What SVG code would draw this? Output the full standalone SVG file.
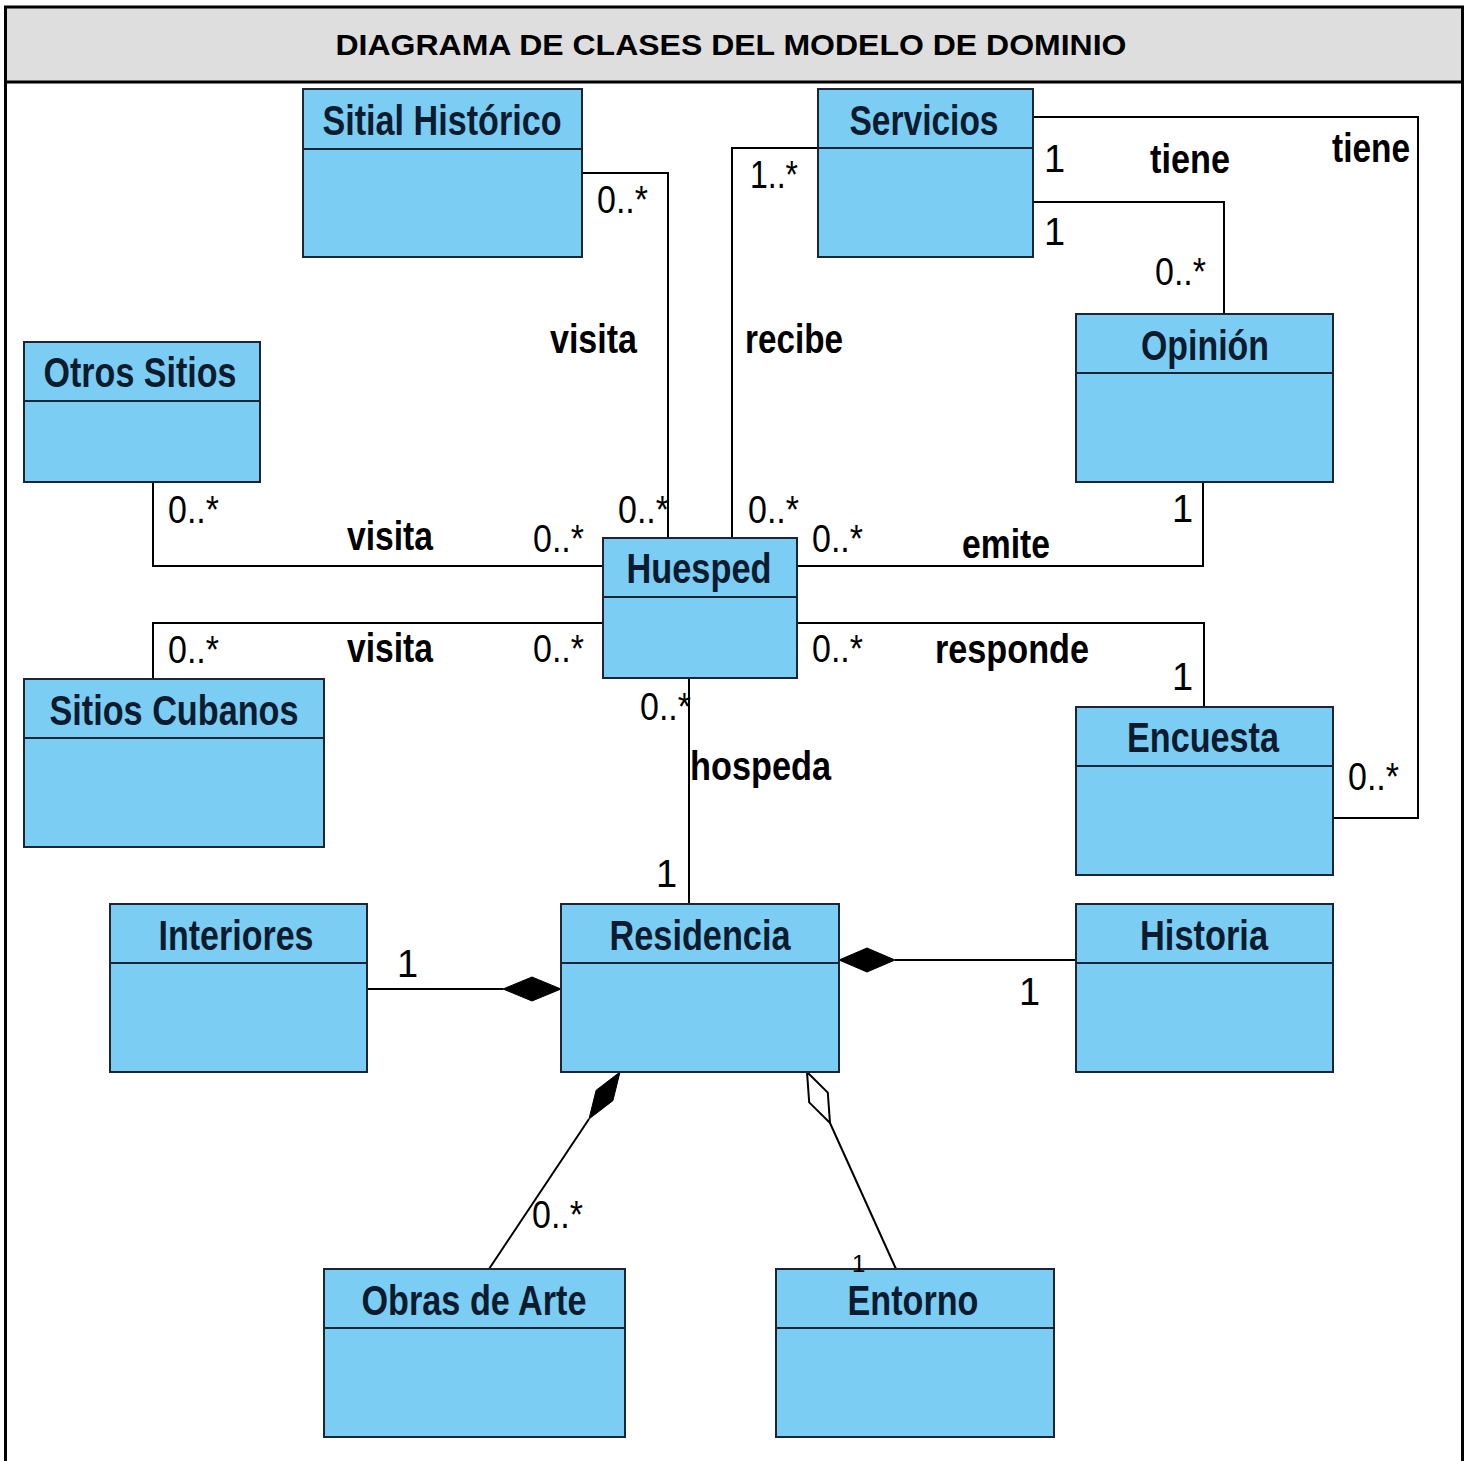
<svg xmlns="http://www.w3.org/2000/svg" width="1468" height="1461" viewBox="0 0 1468 1461">
  <style>
    .frame { fill: none; stroke: #000; stroke-width: 3; }
    .box { fill: #7bcdf3; stroke: #1b2536; stroke-width: 2; }
    .div { stroke: #1b2536; stroke-width: 2; }
    .name { font-family: "Liberation Sans", Arial, sans-serif; font-weight: bold; font-size: 42px; fill: #0d1b2e; text-anchor: middle; }
    .conn { fill: none; stroke: #000; stroke-width: 2; }
    .assoc { font-family: "Liberation Sans", Arial, sans-serif; font-weight: bold; font-size: 40px; fill: #000; }
    .mult { font-family: "Liberation Sans", Arial, sans-serif; font-size: 38px; fill: #000; }
    .title { font-family: "Liberation Sans", Arial, sans-serif; font-weight: bold; font-size: 30px; fill: #000; text-anchor: middle; }
  </style>

  <!-- page frame and title bar -->
  <rect x="0" y="0" width="1468" height="1461" fill="#fff"/>
  <rect x="5.5" y="7" width="1457" height="75" fill="#dedede"/>
  <path class="frame" d="M5.5,1461 V7 H1462.5 V1461 M5.5,82 H1462.5"/>
  <text class="title" x="731" y="55" textLength="791" lengthAdjust="spacingAndGlyphs">DIAGRAMA DE CLASES DEL MODELO DE DOMINIO</text>

  <!-- associations -->
  <g id="connectors">
    <!-- Sitial Histórico - Huesped -->
    <path class="conn" d="M582,173 H668 V538"/>
    <!-- Servicios - Huesped -->
    <path class="conn" d="M818,148 H732 V538"/>
    <!-- Servicios - Encuesta -->
    <path class="conn" d="M1033,117 H1418 V818 H1333"/>
    <!-- Servicios - Opinión -->
    <path class="conn" d="M1033,202 H1224 V314"/>
    <!-- Opinión - Huesped -->
    <path class="conn" d="M1203,482 V566 H797"/>
    <!-- Huesped - Encuesta -->
    <path class="conn" d="M797,623 H1204 V707"/>
    <!-- Otros Sitios - Huesped -->
    <path class="conn" d="M153,482 V566 H603"/>
    <!-- Sitios Cubanos - Huesped -->
    <path class="conn" d="M603,623 H153 V679"/>
    <!-- Huesped - Residencia -->
    <path class="conn" d="M689,678 V904"/>
    <!-- Interiores - Residencia (composition) -->
    <path class="conn" d="M367,989 H503"/>
    <polygon points="561,989 532,977 503,989 532,1001" fill="#000" stroke="#000" stroke-width="1"/>
    <!-- Historia - Residencia (composition) -->
    <path class="conn" d="M1076,960 H895"/>
    <polygon points="839,960 867,948 895,960 867,972" fill="#000" stroke="#000" stroke-width="1"/>
    <!-- Obras de Arte - Residencia (composition) -->
    <path class="conn" d="M589,1119 L489,1269"/>
    <polygon points="620,1072 612.9,1100.7 589,1119 596.1,1090.3" fill="#000" stroke="#000" stroke-width="1"/>
    <!-- Entorno - Residencia (aggregation) -->
    <path class="conn" d="M830,1123 L896,1269"/>
    <polygon points="807,1072 827.8,1092.6 830,1123 809.2,1102.4" fill="#fff" stroke="#000" stroke-width="2"/>
  </g>

  <!-- classes -->
  <g id="sitial-historico">
    <rect class="box" x="303" y="89" width="279" height="168"/>
    <line class="div" x1="303" y1="149" x2="582" y2="149"/>
    <text class="name" x="442" y="135" textLength="239" lengthAdjust="spacingAndGlyphs">Sitial Histórico</text>
  </g>
  <g id="servicios">
    <rect class="box" x="818" y="89" width="215" height="168"/>
    <line class="div" x1="818" y1="148" x2="1033" y2="148"/>
    <text class="name" x="924" y="135" textLength="149" lengthAdjust="spacingAndGlyphs">Servicios</text>
  </g>
  <g id="otros-sitios">
    <rect class="box" x="24" y="342" width="236" height="140"/>
    <line class="div" x1="24" y1="401" x2="260" y2="401"/>
    <text class="name" x="140" y="387" textLength="193" lengthAdjust="spacingAndGlyphs">Otros Sitios</text>
  </g>
  <g id="opinion">
    <rect class="box" x="1076" y="314" width="257" height="168"/>
    <line class="div" x1="1076" y1="373" x2="1333" y2="373"/>
    <text class="name" x="1205" y="360" textLength="128" lengthAdjust="spacingAndGlyphs">Opinión</text>
  </g>
  <g id="huesped">
    <rect class="box" x="603" y="538" width="194" height="140"/>
    <line class="div" x1="603" y1="597" x2="797" y2="597"/>
    <text class="name" x="699" y="583" textLength="145" lengthAdjust="spacingAndGlyphs">Huesped</text>
  </g>
  <g id="sitios-cubanos">
    <rect class="box" x="24" y="679" width="300" height="168"/>
    <line class="div" x1="24" y1="738" x2="324" y2="738"/>
    <text class="name" x="174" y="725" textLength="249" lengthAdjust="spacingAndGlyphs">Sitios Cubanos</text>
  </g>
  <g id="encuesta">
    <rect class="box" x="1076" y="707" width="257" height="168"/>
    <line class="div" x1="1076" y1="766" x2="1333" y2="766"/>
    <text class="name" x="1203" y="752" textLength="152" lengthAdjust="spacingAndGlyphs">Encuesta</text>
  </g>
  <g id="interiores">
    <rect class="box" x="110" y="904" width="257" height="168"/>
    <line class="div" x1="110" y1="963" x2="367" y2="963"/>
    <text class="name" x="236" y="950" textLength="155" lengthAdjust="spacingAndGlyphs">Interiores</text>
  </g>
  <g id="residencia">
    <rect class="box" x="561" y="904" width="278" height="168"/>
    <line class="div" x1="561" y1="963" x2="839" y2="963"/>
    <text class="name" x="700" y="950" textLength="181" lengthAdjust="spacingAndGlyphs">Residencia</text>
  </g>
  <g id="historia">
    <rect class="box" x="1076" y="904" width="257" height="168"/>
    <line class="div" x1="1076" y1="963" x2="1333" y2="963"/>
    <text class="name" x="1204" y="950" textLength="128" lengthAdjust="spacingAndGlyphs">Historia</text>
  </g>
  <g id="obras-de-arte">
    <rect class="box" x="324" y="1269" width="301" height="168"/>
    <line class="div" x1="324" y1="1328" x2="625" y2="1328"/>
    <text class="name" x="474" y="1315" textLength="225" lengthAdjust="spacingAndGlyphs">Obras de Arte</text>
  </g>
  <g id="entorno">
    <rect class="box" x="776" y="1269" width="278" height="168"/>
    <line class="div" x1="776" y1="1328" x2="1054" y2="1328"/>
    <text class="name" x="913" y="1315" textLength="131" lengthAdjust="spacingAndGlyphs">Entorno</text>
  </g>

  <!-- association names and multiplicities, drawn over the boxes -->
  <g id="labels">
    <text class="mult" x="597" y="213" textLength="51" lengthAdjust="spacingAndGlyphs">0..*</text>
    <text class="assoc" x="550" y="353" textLength="87" lengthAdjust="spacingAndGlyphs">visita</text>
    <text class="mult" x="618" y="523" textLength="51" lengthAdjust="spacingAndGlyphs">0..*</text>

    <text class="mult" x="750" y="188" textLength="48" lengthAdjust="spacingAndGlyphs">1..*</text>
    <text class="assoc" x="745" y="353" textLength="98" lengthAdjust="spacingAndGlyphs">recibe</text>
    <text class="mult" x="748" y="523" textLength="51" lengthAdjust="spacingAndGlyphs">0..*</text>

    <text class="mult" x="1044" y="172">1</text>
    <text class="assoc" x="1150" y="173" textLength="80" lengthAdjust="spacingAndGlyphs">tiene</text>
    <text class="assoc" x="1332" y="162" textLength="78" lengthAdjust="spacingAndGlyphs">tiene</text>
    <text class="mult" x="1044" y="245">1</text>
    <text class="mult" x="1155" y="285" textLength="51" lengthAdjust="spacingAndGlyphs">0..*</text>

    <text class="mult" x="168" y="523" textLength="51" lengthAdjust="spacingAndGlyphs">0..*</text>
    <text class="assoc" x="347" y="550" textLength="86" lengthAdjust="spacingAndGlyphs">visita</text>
    <text class="mult" x="533" y="552" textLength="51" lengthAdjust="spacingAndGlyphs">0..*</text>

    <text class="mult" x="812" y="552" textLength="51" lengthAdjust="spacingAndGlyphs">0..*</text>
    <text class="assoc" x="962" y="558" textLength="88" lengthAdjust="spacingAndGlyphs">emite</text>
    <text class="mult" x="1172" y="522">1</text>

    <text class="mult" x="168" y="663" textLength="51" lengthAdjust="spacingAndGlyphs">0..*</text>
    <text class="assoc" x="347" y="662" textLength="86" lengthAdjust="spacingAndGlyphs">visita</text>
    <text class="mult" x="533" y="662" textLength="51" lengthAdjust="spacingAndGlyphs">0..*</text>

    <text class="mult" x="812" y="662" textLength="51" lengthAdjust="spacingAndGlyphs">0..*</text>
    <text class="assoc" x="935" y="663" textLength="154" lengthAdjust="spacingAndGlyphs">responde</text>
    <text class="mult" x="1172" y="690">1</text>

    <text class="mult" x="1348" y="790" textLength="51" lengthAdjust="spacingAndGlyphs">0..*</text>

    <text class="mult" x="640" y="720" textLength="51" lengthAdjust="spacingAndGlyphs">0..*</text>
    <text class="assoc" x="690" y="780" textLength="141" lengthAdjust="spacingAndGlyphs">hospeda</text>
    <text class="mult" x="656" y="887">1</text>

    <text class="mult" x="397" y="977">1</text>
    <text class="mult" x="1019" y="1005">1</text>
    <text class="mult" x="532" y="1228" textLength="51" lengthAdjust="spacingAndGlyphs">0..*</text>
    <text class="mult" x="852" y="1272" style="font-size:24px">1</text>
  </g>
</svg>
